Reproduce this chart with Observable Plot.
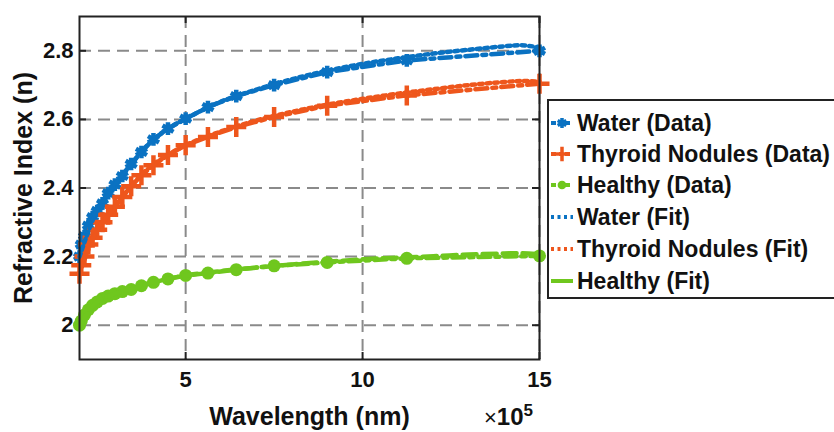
<!DOCTYPE html>
<html><head><meta charset="utf-8">
<script src="https://cdn.jsdelivr.net/npm/d3@7"></script>
<script src="https://cdn.jsdelivr.net/npm/@observablehq/plot@0.6"></script>
<style>
body{margin:0;background:#fff;font-family:"Liberation Sans",Arial,sans-serif;}
#wrap{position:relative;width:834px;height:432px;overflow:hidden;background:#fff;}
#legend{position:absolute;left:547px;top:99px;width:310px;height:200px;border:2px solid #222;background:#fff;box-sizing:border-box;}
.row{position:absolute;left:0;height:30px;display:flex;align-items:center;font-weight:bold;font-size:23px;color:#111;white-space:nowrap;}
.row svg{flex:none;}
#expo{position:absolute;left:484px;top:404px;height:26px;font-size:24px;font-weight:bold;color:#111;white-space:nowrap;line-height:26px;}
#expo .x{font-weight:normal;font-size:22px;}
#expo .sup{font-size:17px;position:relative;top:-9px;vertical-align:baseline;}
</style></head>
<body>
<div id="wrap"><div id="chart"></div><div id="legend"></div><div id="expo"><span class="x">×</span>10<span class="sup">5</span></div></div>
<script>
// ---- data (wavelength ×10^5 nm, refractive index) ----
const wavelength = [2.0, 2.05, 2.14, 2.25, 2.37, 2.5, 2.65, 2.81, 3.0, 3.21, 3.46, 3.75, 4.09, 4.5, 5.0, 5.63, 6.43, 7.5, 9.0, 11.25, 15.0];
const waterData   = [2.20, 2.235, 2.26, 2.29, 2.315, 2.333, 2.355, 2.385, 2.41, 2.435, 2.47, 2.505, 2.542, 2.573, 2.602, 2.636, 2.668, 2.70, 2.738, 2.772, 2.80];
const thyroidData = [2.15, 2.175, 2.20, 2.235, 2.255, 2.278, 2.30, 2.322, 2.345, 2.374, 2.405, 2.437, 2.466, 2.496, 2.525, 2.549, 2.578, 2.607, 2.64, 2.67, 2.704];
const healthyData = [2.0, 2.012, 2.03, 2.045, 2.058, 2.068, 2.078, 2.085, 2.092, 2.098, 2.104, 2.115, 2.125, 2.135, 2.145, 2.152, 2.162, 2.173, 2.183, 2.195, 2.202];

const fitWavelength = [2, 2.5, 3, 3.5, 4, 4.5, 5, 6, 7, 8, 9, 10, 11, 12, 13, 14, 14.5, 15];
const waterFit   = [2.20, 2.335, 2.41, 2.475, 2.533, 2.573, 2.602, 2.652, 2.687, 2.717, 2.742, 2.762, 2.778, 2.792, 2.803, 2.813, 2.816, 2.81];
const thyroidFit = [2.15, 2.278, 2.343, 2.41, 2.462, 2.496, 2.525, 2.565, 2.597, 2.622, 2.643, 2.66, 2.675, 2.688, 2.70, 2.709, 2.712, 2.71];
const healthyFit = [2.0, 2.068, 2.092, 2.106, 2.123, 2.135, 2.145, 2.158, 2.168, 2.177, 2.185, 2.192, 2.197, 2.201, 2.206, 2.209, 2.21, 2.207];

const xTicks = [5, 10, 15];
const yTicks = [2, 2.2, 2.4, 2.6, 2.8];
const xLabel = "Wavelength (nm)";
const yLabel = "Refractive Index (n)";
const seriesNames = ["Water (Data)", "Thyroid Nodules (Data)", "Healthy (Data)", "Water (Fit)", "Thyroid Nodules (Fit)", "Healthy (Fit)"];

// ---- styles ----
const C = {water: "#0A72C2", thyroid: "#EE561C", healthy: "#6FC71E"};
const dashDot = "12,5,4,5", dotted = "3.5,4", dashed = "14,6";

const rows = (xs, ys) => xs.map((x, i) => ({x, y: ys[i]}));
const W = rows(wavelength, waterData), T = rows(wavelength, thyroidData), H = rows(wavelength, healthyData);
const WF = rows(fitWavelength, waterFit), TF = rows(fitWavelength, thyroidFit), HF = rows(fitWavelength, healthyFit);

const gridStyle = {stroke: "#8a8a8a", strokeOpacity: 1, strokeWidth: 2, strokeDasharray: "12,7"};
const lw = 4.5;

const chart = Plot.plot({
  width: 834, height: 432,
  marginLeft: 79, marginRight: 295, marginTop: 16, marginBottom: 73,
  x: {domain: [2, 15]},
  y: {domain: [1.9, 2.9]},
  style: {fontFamily: "'Liberation Sans', Arial, sans-serif", fontSize: "22px", fontWeight: "bold", color: "#111", background: "transparent"},
  marks: [
    Plot.gridX(xTicks, gridStyle),
    Plot.gridY(yTicks, gridStyle),
    Plot.tickX(xTicks, {stroke: "#222", strokeWidth: 2, insetTop: 336}),
    Plot.tickX(xTicks, {stroke: "#222", strokeWidth: 2, insetBottom: 336}),
    Plot.tickY(yTicks, {stroke: "#222", strokeWidth: 2, insetLeft: 453}),
    Plot.tickY(yTicks, {stroke: "#222", strokeWidth: 2, insetRight: 453}),
    Plot.axisX(xTicks, {tickSize: 0, tickPadding: 12, label: null, tickFormat: d => String(d)}),
    Plot.axisY(yTicks, {tickSize: 0, tickPadding: 6, label: null, tickFormat: d => String(d)}),
    // data series
    Plot.line(W, {x: "x", y: "y", stroke: C.water, strokeWidth: lw, strokeDasharray: dashDot}),
    Plot.dot(W, {x: "x", y: "y", symbol: "asterisk", stroke: C.water, strokeWidth: 4.5, r: 6}),
    Plot.line(T, {x: "x", y: "y", stroke: C.thyroid, strokeWidth: lw, strokeDasharray: dashDot}),
    Plot.dot(T, {x: "x", y: "y", symbol: "plus", stroke: C.thyroid, strokeWidth: 4.5, r: 6.5}),
    Plot.line(H, {x: "x", y: "y", stroke: C.healthy, strokeWidth: lw, strokeDasharray: dashDot}),
    Plot.dot(H, {x: "x", y: "y", symbol: "circle", fill: C.healthy, r: 6.5}),
    // fits
    Plot.line(WF, {x: "x", y: "y", stroke: C.water, strokeWidth: lw, strokeDasharray: dotted, curve: "catmull-rom"}),
    Plot.line(TF, {x: "x", y: "y", stroke: C.thyroid, strokeWidth: lw, strokeDasharray: dotted, curve: "catmull-rom"}),
    Plot.line(HF, {x: "x", y: "y", stroke: C.healthy, strokeWidth: lw, strokeDasharray: dashed, curve: "catmull-rom"}),
    Plot.frame({stroke: "#222", strokeWidth: 2}),
    Plot.text([xLabel], {frameAnchor: "bottom", textAnchor: "middle", lineAnchor: "middle", dy: 57, fontSize: 25, fontWeight: "bold", fill: "#111"}),
    Plot.text([yLabel], {frameAnchor: "left", textAnchor: "middle", lineAnchor: "middle", dx: -56, rotate: -90, fontSize: 25, fontWeight: "bold", fill: "#111"})
  ]
});
document.getElementById("chart").appendChild(chart);

// ---- legend ----
const legendSpec = [
  {color: C.water, dash: dashDot, sym: d3.symbolAsterisk, fill: false},
  {color: C.thyroid, dash: dashDot, sym: d3.symbolPlus, fill: false},
  {color: C.healthy, dash: dashDot, sym: d3.symbolCircle, fill: true},
  {color: C.water, dash: dotted, sym: null},
  {color: C.thyroid, dash: dotted, sym: null},
  {color: C.healthy, dash: null, sym: null}
];
const legend = document.getElementById("legend");
const rowTops = [7, 38, 69, 101, 133, 165];
seriesNames.forEach((name, i) => {
  const s = legendSpec[i];
  const row = document.createElement("div");
  row.className = "row";
  row.style.top = rowTops[i] + "px";
  const svg = d3.create("svg").attr("width", 27).attr("height", 30);
  svg.append("line").attr("x1", 2).attr("x2", 24).attr("y1", 15).attr("y2", 15)
    .attr("stroke", s.color).attr("stroke-width", 4)
    .attr("stroke-dasharray", s.dash ? (s.dash === dotted ? "3,3.5" : "5,3,3,3") : null);
  if (s.sym) {
    svg.append("path").attr("transform", "translate(13,15)")
      .attr("d", d3.symbol(s.sym, s.fill ? 60 : 70)())
      .attr("fill", s.fill ? s.color : "none")
      .attr("stroke", s.fill ? "none" : s.color).attr("stroke-width", 3.5);
  }
  row.appendChild(svg.node());
  const span = document.createElement("span");
  span.textContent = name;
  span.style.marginLeft = "1px";
  row.appendChild(span);
  legend.appendChild(row);
});
</script>
</body></html>
